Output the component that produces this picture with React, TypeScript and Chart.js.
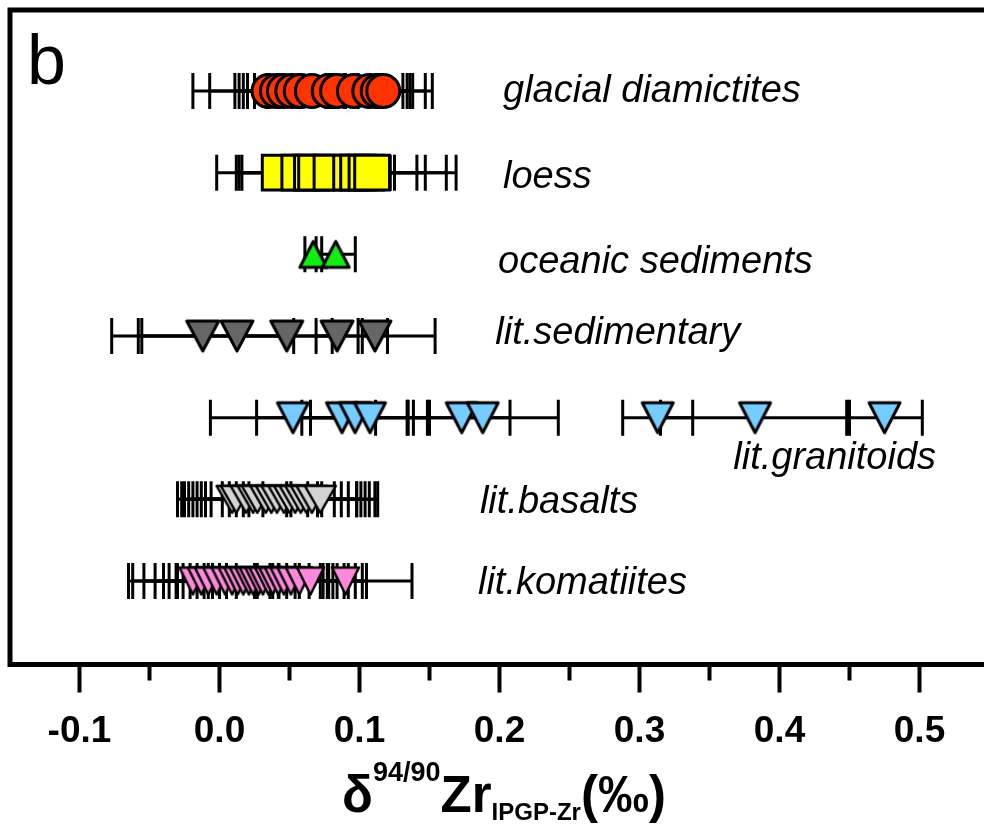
import React, { useEffect, useRef } from 'react';
import { Chart, registerables } from 'chart.js';

Chart.register(...registerables);

// ---------- data ----------
const ROW_LABELS = ['glacial diamictites', 'loess', 'oceanic sediments', 'lit.sedimentary', 'lit.granitoids', 'lit.basalts', 'lit.komatiites'];
const ROW_POS = [7, 6, 5, 4, 3, 2, 1];

const GLACIAL_VALUES = [0.035, 0.041, 0.046, 0.052, 0.058, 0.066, 0.078, 0.084, 0.096, 0.107, 0.113, 0.117];
const GLACIAL_ERRORS = [0.054, 0.048, 0.035, 0.038, 0.041, 0.046, 0.053, 0.050, 0.040, 0.031, 0.034, 0.035];

const LOESS_VALUES = [0.043, 0.057, 0.066, 0.069, 0.080, 0.094, 0.099, 0.105, 0.109];
const LOESS_ERRORS = [0.045, 0.045, 0.052, 0.053, 0.045, 0.047, 0.048, 0.057, 0.060];

const OCEANIC_VALUES = [0.067, 0.083];
const OCEANIC_ERRORS = [0.006, 0.014];

const SEDIMENTARY_VALUES = [-0.012, 0.0125, 0.048, 0.084, 0.111];
const SEDIMENTARY_ERRORS = [0.065, 0.068, 0.106, 0.015, 0.009];

const GRANITOID_VALUES = [0.0525, 0.0875, 0.0968, 0.1075, 0.173, 0.188, 0.313, 0.3825, 0.475];
const GRANITOID_ERRORS = [0.059, 0.061, 0.038, 0.0425, 0.0345, 0.054, 0.025, 0.0675, 0.027];

const BASALT_VALUES = [0.009, 0.012, 0.019, 0.024, 0.027, 0.033, 0.037, 0.041, 0.046, 0.050, 0.054, 0.058, 0.062, 0.066, 0.072];
const BASALT_ERRORS = [0.039, 0.039, 0.044, 0.046, 0.046, 0.049, 0.050, 0.051, 0.052, 0.048, 0.047, 0.046, 0.045, 0.045, 0.041];

const KOMATIITE_VALUES = [-0.019, -0.013, -0.008, -0.002, 0.004, 0.009, 0.013, 0.017, 0.021, 0.024, 0.028, 0.031, 0.035, 0.038, 0.042, 0.046, 0.051, 0.057, 0.065, 0.090];
const KOMATIITE_ERRORS = [0.046, 0.049, 0.046, 0.044, 0.044, 0.045, 0.044, 0.047, 0.051, 0.050, 0.049, 0.047, 0.046, 0.046, 0.047, 0.046, 0.046, 0.045, 0.040, 0.0475];

const X_MAJOR_TICKS = [-0.1, 0.0, 0.1, 0.2, 0.3, 0.4, 0.5];
const X_MINOR_TICKS = [-0.05, 0.05, 0.15, 0.25, 0.35, 0.45];
const X_TICK_LABELS = ['-0.1', '0.0', '0.1', '0.2', '0.3', '0.4', '0.5'];

// ---------- layout / style ----------
const X_MIN = -0.14964;
const X_MAX = 0.54607;
const Y_MIN = -0.022;
const Y_MAX = 7.992;
const FONT = '"Liberation Sans", Arial, Helvetica, sans-serif';

// label anchor (x in data units) and baseline offset in px from row centre
const LABEL_LAYOUT = [
  { x: 0.2025, dy: 11 },
  { x: 0.2025, dy: 15 },
  { x: 0.199, dy: 19 },
  { x: 0.197, dy: 8 },
  { x: 0.367, dy: 51 },
  { x: 0.186, dy: 14 },
  { x: 0.1846, dy: 13 },
];

function makeTriangle(w: number, h: number, fill: string, down: boolean, lw: number) {
  const c = document.createElement('canvas');
  const pad = Math.ceil(lw) + 1;
  c.width = Math.round(w + 2 * pad);
  c.height = Math.round(h + 2 * pad);
  const ctx = c.getContext('2d')!;
  ctx.beginPath();
  if (down) {
    ctx.moveTo(pad, pad);
    ctx.lineTo(pad + w, pad);
    ctx.lineTo(pad + w / 2, pad + h);
  } else {
    ctx.moveTo(pad, pad + h);
    ctx.lineTo(pad + w, pad + h);
    ctx.lineTo(pad + w / 2, pad);
  }
  ctx.closePath();
  ctx.fillStyle = fill;
  ctx.fill();
  ctx.lineJoin = 'round';
  ctx.lineWidth = lw;
  ctx.strokeStyle = '#000';
  ctx.stroke();
  return c;
}

const customPlugin = {
  id: 'zrCustom',
  beforeDatasetsDraw(chart: any) {
    const ctx = chart.ctx;
    const xs = chart.scales.x;
    const ys = chart.scales.y;
    ctx.save();
    ctx.strokeStyle = '#000';
    ctx.lineWidth = 3;
    chart.data.datasets.forEach((ds: any) => {
      const errs: number[] = ds.errors || [];
      ds.data.forEach((pt: any, i: number) => {
        const e = errs[i] || 0;
        const y = ys.getPixelForValue(pt.y);
        const x1 = xs.getPixelForValue(pt.x - e);
        const x2 = xs.getPixelForValue(pt.x + e);
        ctx.beginPath();
        ctx.moveTo(x1, y);
        ctx.lineTo(x2, y);
        ctx.moveTo(x1, y - 18);
        ctx.lineTo(x1, y + 18);
        ctx.moveTo(x2, y - 18);
        ctx.lineTo(x2, y + 18);
        ctx.stroke();
      });
    });
    ctx.restore();
  },
  afterDraw(chart: any) {
    const ctx = chart.ctx;
    const xs = chart.scales.x;
    const ys = chart.scales.y;
    const a = chart.chartArea;
    ctx.save();
    // frame
    ctx.strokeStyle = '#000';
    ctx.lineWidth = 5;
    ctx.lineJoin = 'miter';
    ctx.beginPath();
    ctx.moveTo(chart.width + 5, a.top);
    ctx.lineTo(a.left, a.top);
    ctx.lineTo(a.left, a.bottom);
    ctx.lineTo(chart.width + 5, a.bottom);
    ctx.stroke();
    // ticks
    ctx.lineWidth = 4;
    ctx.beginPath();
    X_MAJOR_TICKS.forEach((v) => {
      const x = xs.getPixelForValue(v);
      ctx.moveTo(x, a.bottom + 2.5);
      ctx.lineTo(x, a.bottom + 28);
    });
    X_MINOR_TICKS.forEach((v) => {
      const x = xs.getPixelForValue(v);
      ctx.moveTo(x, a.bottom + 2.5);
      ctx.lineTo(x, a.bottom + 16);
    });
    ctx.stroke();
    // tick labels
    ctx.fillStyle = '#000';
    ctx.font = `bold 37px ${FONT}`;
    ctx.textAlign = 'center';
    ctx.textBaseline = 'alphabetic';
    X_MAJOR_TICKS.forEach((v, i) => {
      ctx.fillText(X_TICK_LABELS[i], xs.getPixelForValue(v), a.bottom + 77);
    });
    // axis title
    const parts = [
      { t: 'δ', f: `bold 51px ${FONT}`, dy: 0 },
      { t: '94/90', f: `bold 27px ${FONT}`, dy: -31 },
      { t: 'Zr', f: `bold 51px ${FONT}`, dy: 0 },
      { t: 'IPGP-Zr', f: `bold 24px ${FONT}`, dy: 8 },
      { t: '(‰)', f: `bold 51px ${FONT}`, dy: 0 },
    ];
    ctx.textAlign = 'left';
    let total = 0;
    parts.forEach((p) => {
      ctx.font = p.f;
      total += ctx.measureText(p.t).width;
    });
    let tx = 504 - total / 2;
    const baseY = a.bottom + 147;
    parts.forEach((p) => {
      ctx.font = p.f;
      ctx.fillText(p.t, tx, baseY + p.dy);
      tx += ctx.measureText(p.t).width;
    });
    // row labels
    ctx.font = `italic 38px ${FONT}`;
    ROW_LABELS.forEach((lab, i) => {
      const L = LABEL_LAYOUT[i];
      ctx.fillText(lab, xs.getPixelForValue(L.x), ys.getPixelForValue(ROW_POS[i]) + L.dy);
    });
    // panel letter
    ctx.font = `70px ${FONT}`;
    ctx.fillText('b', 27, 84);
    ctx.restore();
  },
};

export default function App() {
  const ref = useRef<HTMLCanvasElement | null>(null);
  useEffect(() => {
    if (!ref.current) return;
    const sedTri = makeTriangle(32, 30, '#666666', true, 3);
    const graTri = makeTriangle(31, 30, '#77ccff', true, 3);
    const basTri = makeTriangle(31, 27, '#d4d4d4', true, 2.5);
    const komTri = makeTriangle(27, 27, '#ff88dd', true, 2.5);
    const oceTri = makeTriangle(27, 26, '#11ee11', false, 3);

    const mk = (values: number[], errors: number[], row: number, extra: any) => ({
      type: 'scatter',
      data: values.map((v) => ({ x: v, y: row })),
      errors,
      showLine: false,
      borderColor: '#000',
      pointBorderColor: '#000',
      clip: false,
      ...extra,
    });

    const chart = new Chart(ref.current, {
      type: 'scatter',
      data: {
        datasets: [
          mk(GLACIAL_VALUES, GLACIAL_ERRORS, ROW_POS[0], { pointStyle: 'circle', pointRadius: 16.5, pointBackgroundColor: '#ff3300', pointBorderWidth: 3 }),
          mk(LOESS_VALUES, LOESS_ERRORS, ROW_POS[1], { pointStyle: 'rect', pointRadius: 24.6, pointBackgroundColor: '#ffff00', pointBorderWidth: 3 }),
          mk(OCEANIC_VALUES, OCEANIC_ERRORS, ROW_POS[2], { pointStyle: oceTri, pointRadius: 14 }),
          mk(SEDIMENTARY_VALUES, SEDIMENTARY_ERRORS, ROW_POS[3], { pointStyle: sedTri, pointRadius: 16 }),
          mk(GRANITOID_VALUES, GRANITOID_ERRORS, ROW_POS[4], { pointStyle: graTri, pointRadius: 16 }),
          mk(BASALT_VALUES, BASALT_ERRORS, ROW_POS[5], { pointStyle: basTri, pointRadius: 16 }),
          mk(KOMATIITE_VALUES, KOMATIITE_ERRORS, ROW_POS[6], { pointStyle: komTri, pointRadius: 14 }),
        ] as any,
      },
      options: {
        responsive: false,
        animation: false,
        devicePixelRatio: 1,
        events: [],
        layout: { autoPadding: false, padding: { left: 10, top: 10, right: 0, bottom: 165.5 } },
        plugins: { legend: { display: false }, tooltip: { enabled: false } },
        scales: {
          x: { type: 'linear', min: X_MIN, max: X_MAX, display: false },
          y: { type: 'linear', min: Y_MIN, max: Y_MAX, display: false },
        },
      } as any,
      plugins: [customPlugin],
    });
    return () => chart.destroy();
  }, []);

  return (
    <div style={{ position: 'absolute', left: 0, top: 0, width: 984, height: 830, background: '#fff' }}>
      <canvas ref={ref} width={984} height={830} style={{ display: 'block', width: 984, height: 830 }} />
    </div>
  );
}
